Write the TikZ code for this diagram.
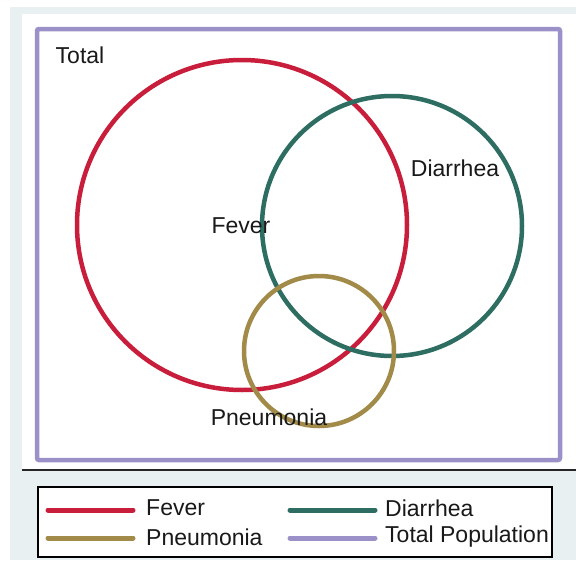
\documentclass[tikz,border=0pt]{standalone}
\usepackage{fontspec}
\setmainfont{Liberation Sans}
\usetikzlibrary{positioning}
\definecolor{feverred}{HTML}{C81E3C}
\definecolor{diargreen}{HTML}{2E6E62}
\definecolor{pneuolive}{HTML}{A28A48}
\definecolor{totpurple}{HTML}{9C90C8}
\definecolor{bggray}{HTML}{E8F0F2}

\begin{document}
\begin{tikzpicture}[x=1pt,y=-1pt,
    lab/.style={font=\fontsize{23}{26}\selectfont, inner sep=0pt, text=black!90},
    ring/.style={line width=4.5pt},
    keyline/.style={line width=5pt, line cap=round}]

    \useasboundingbox (0,0) rectangle (576,560);

    % background
    \fill[bggray] (10,7) rectangle (576,560);
    \fill[white] (22,14) rectangle (576,470);
    \draw[line width=1.5pt, black!85] (22,470) -- (576,470);

    % total population
    \draw[ring, totpurple, rounded corners=2pt] (37,29) rectangle (560,460);

    % circles
    \draw[ring, feverred] (242,225) circle[radius=165pt];
    \draw[ring, diargreen] (392,226) circle[radius=130pt];
    \draw[ring, pneuolive] (319,351) circle[radius=75pt];

    % labels
    \node[lab] (total) at (80,55) {Total};
    \node[lab] (fever) at (241,226) {Fever};
    \node[lab] (diarrhea) at (455,168) {Diarrhea};
    \node[lab] (pneumonia) at (269,417) {Pneumonia};

    % legend
    \draw[line width=1.2pt, fill=white] (38,487) rectangle (552,557);
    \node[lab, anchor=west] (kfever) at (146,508) {Fever};
    \node[lab, anchor=west] (kdiarrhea) at (385,508) {Diarrhea};
    \node[lab, anchor=west] (kpneumonia) at (146,537) {Pneumonia};
    \node[lab, anchor=west] (ktotal) at (385,537) {Total Population};
    \draw[keyline, feverred] (48,510) -- (133,510);
    \draw[keyline, diargreen] (290,510) -- (375,510);
    \draw[keyline, pneuolive] (48,538) -- (133,538);
    \draw[keyline, totpurple] (290,538) -- (375,538);

\end{tikzpicture}
\end{document}
